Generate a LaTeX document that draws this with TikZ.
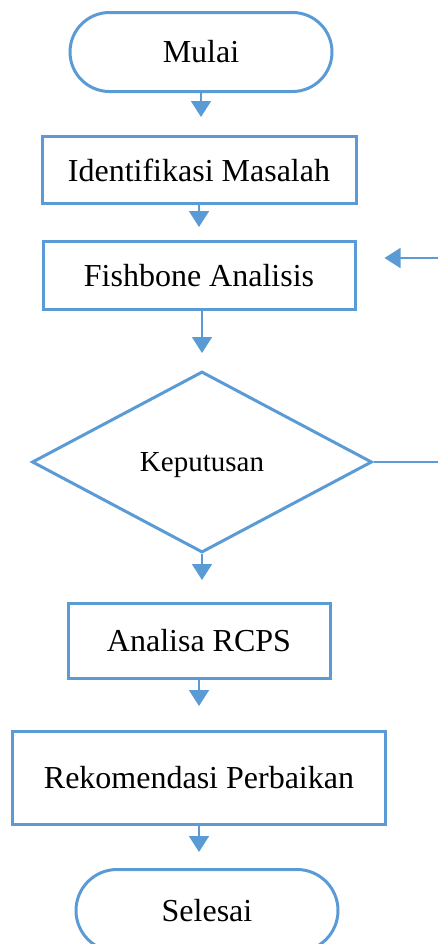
\documentclass[tikz,border=0pt]{standalone}
\usepackage{fontspec}
\setmainfont{Liberation Serif}
\usetikzlibrary{
  arrows.meta,
  positioning,
  shapes.geometric,
}
\definecolor{wordblue}{RGB}{91,155,213}
\tikzstyle{flowarrow} = [
  -{Triangle[width=10pt,length=8pt]},
  line width=0.9pt,
  wordblue,
  shorten >=9pt,
]

\begin{document}
\begin{tikzpicture}[x=0.5pt,y=-0.5pt,node distance=21pt,font=\fontsize{16}{19}\selectfont]

        \useasboundingbox (0,0) rectangle (438,944);
        \coordinate (rightedge) at (438,0);
        \coordinate (loopin) at (438,258);

        \node[draw=wordblue,line width=1.5pt,rectangle,rounded corners=19.75pt,minimum width=131pt,minimum height=39.5pt] (mulai) at (201,52) {Mulai};
        \node[draw=wordblue,line width=1.5pt,rectangle,minimum width=157pt,minimum height=33.5pt,xshift=-1pt] (identifikasi) [below=21pt of mulai] {Identifikasi Masalah};
        \node[draw=wordblue,line width=1.5pt,rectangle,minimum width=156pt,minimum height=34pt] (fishbone) [below=17.5pt of identifikasi] {Fishbone Analisis};
        \node[draw=wordblue,line width=1.5pt,diamond,minimum width=170pt,minimum height=90.5pt,inner sep=0pt,text depth=0pt,font=\fontsize{14.5}{17}\selectfont,xshift=1.5pt] (keputusan) [below=29.5pt of fishbone] {Keputusan};
        \node[draw=wordblue,line width=1.5pt,rectangle,minimum width=131pt,minimum height=37.5pt,xshift=-1.5pt] (rcps) [below=24pt of keputusan] {Analisa RCPS};
        \node[draw=wordblue,line width=1.5pt,rectangle,minimum width=186.5pt,minimum height=46.5pt] (rekomendasi) [below=25pt of rcps] {Rekomendasi Perbaikan};
        \node[draw=wordblue,line width=1.5pt,rectangle,rounded corners=20.5pt,minimum width=131pt,minimum height=41pt,xshift=4pt] (selesai) [below=21pt of rekomendasi] {Selesai};

        \draw[flowarrow] (mulai.south) -- (mulai.south |- identifikasi.north);
        \draw[flowarrow,shorten >=6.5pt] (identifikasi.south) -- (identifikasi.south |- fishbone.north);
        \draw[flowarrow,shorten >=8.5pt] (fishbone.south -| keputusan.north) -- (keputusan.north);
        \draw[flowarrow,shorten >=11pt] (keputusan.south) -- (keputusan.south |- rcps.north);
        \draw[flowarrow,shorten >=12pt] (rcps.south) -- (rcps.south |- rekomendasi.north);
        \draw[flowarrow,shorten >=8pt] (rekomendasi.south) -- (rekomendasi.south |- selesai.north);

        \draw[wordblue,line width=0.9pt] (keputusan.east) -- (keputusan.east -| rightedge);
        \draw[flowarrow,shorten >=14pt] (loopin) -- (loopin -| fishbone.east);

\end{tikzpicture}
\end{document}
